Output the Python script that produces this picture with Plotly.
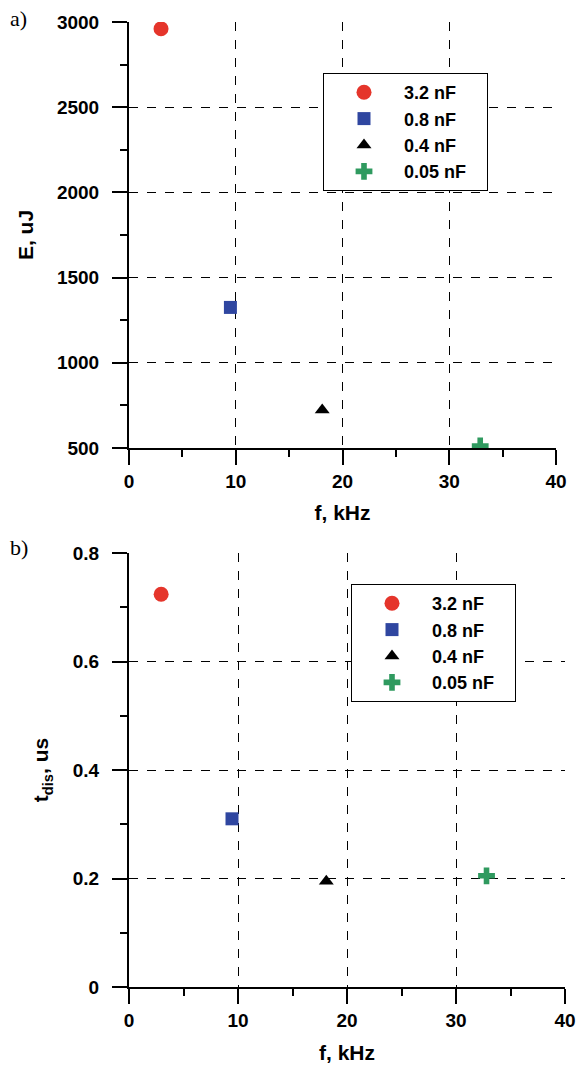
import plotly.graph_objects as go

series = ["3.2 nF", "0.8 nF", "0.4 nF", "0.05 nF"]
freq_a = [3.0, 9.5, 18.1, 32.9]
energy = [2960, 1325, 723, 512]
freq_b = [2.95, 9.45, 18.1, 32.8]
t_dis = [0.724, 0.310, 0.195, 0.205]

colors = ["#e5352b", "#2f46a0", "#000000", "#2f9a5f"]
symbols = ["circle", "square", "triangle-up", "cross"]
sizes = [15, 13, 13, 14]

FONT = "Liberation Sans"
W, H = 580, 1071
PAD = "\u00a0\u00a0\u00a0"

fig = go.Figure()
for i, name in enumerate(series):
    fig.add_trace(go.Scatter(x=[freq_a[i]], y=[energy[i]], mode="markers", name=name + PAD,
                             marker=dict(color=colors[i], symbol=symbols[i], size=sizes[i], line=dict(width=0)),
                             xaxis="x", yaxis="y", legend="legend"))
for i, name in enumerate(series):
    fig.add_trace(go.Scatter(x=[freq_b[i]], y=[t_dis[i]], mode="markers", name=name + PAD,
                             marker=dict(color=colors[i], symbol=symbols[i], size=sizes[i], line=dict(width=0)),
                             xaxis="x2", yaxis="y2", legend="legend2"))

tickfont = dict(family=FONT, size=19, color="black", weight="bold")
titlefont = dict(family=FONT, size=21, color="black", weight="bold")

def axis(domain, rng, dtick, minor_dtick, title, anchor, standoff, labelgap):
    return dict(domain=domain, range=rng, dtick=dtick, tick0=rng[0],
                showline=True, linecolor="black", linewidth=2,
                ticks="outside", ticklen=15, tickwidth=2, tickcolor="black",
                minor=dict(ticks="outside", ticklen=7, tickwidth=2, tickcolor="black", dtick=minor_dtick, showgrid=False),
                showgrid=True, gridcolor="black", gridwidth=1, griddash="dash",
                zeroline=False, tickfont=tickfont, automargin=False,
                ticklabelstandoff=labelgap,
                title=dict(text=title, font=titlefont, standoff=standoff),
                anchor=anchor)

def px_x(a, b):
    return [a / W, b / W]

def px_y(top, bottom):
    return [1 - bottom / H, 1 - top / H]

legfont = dict(family=FONT, size=18, color="black", weight="bold")

fig.update_layout(
    width=W, height=H, margin=dict(l=0, r=0, t=0, b=0, autoexpand=False),
    plot_bgcolor="white", paper_bgcolor="white",
    xaxis=axis(px_x(129, 556), [0, 40], 10, 5, "f, kHz", "y", 15, 0),
    yaxis=axis(px_y(22, 448), [500, 3000], 500, 250, "E, uJ", "x", 18, 9),
    xaxis2=axis(px_x(129, 565), [0, 40], 10, 5, "f, kHz", "y2", 16, 0),
    yaxis2=axis(px_y(553, 987), [0, 0.8], 0.2, 0.1, "t<sub>dis</sub>, us", "x2", 18, 9),
    legend=dict(x=323 / W, y=1 - 73 / H, xanchor="left", yanchor="top", itemwidth=70,
                bgcolor="white", bordercolor="black", borderwidth=1, font=legfont),
    legend2=dict(x=351 / W, y=1 - 584 / H, xanchor="left", yanchor="top", itemwidth=70,
                 bgcolor="white", bordercolor="black", borderwidth=1, font=legfont),
    annotations=[
        dict(text="a)", x=8 / W, y=1 - 4 / H, xref="paper", yref="paper", xanchor="left", yanchor="top",
             showarrow=False, font=dict(family="Liberation Serif", size=22, color="black")),
        dict(text="b)", x=8 / W, y=1 - 533 / H, xref="paper", yref="paper", xanchor="left", yanchor="top",
             showarrow=False, font=dict(family="Liberation Serif", size=22, color="black")),
    ],
)

fig.write_html("out.html", config={"displayModeBar": False},
               post_script="document.body.style.margin='0px';")
